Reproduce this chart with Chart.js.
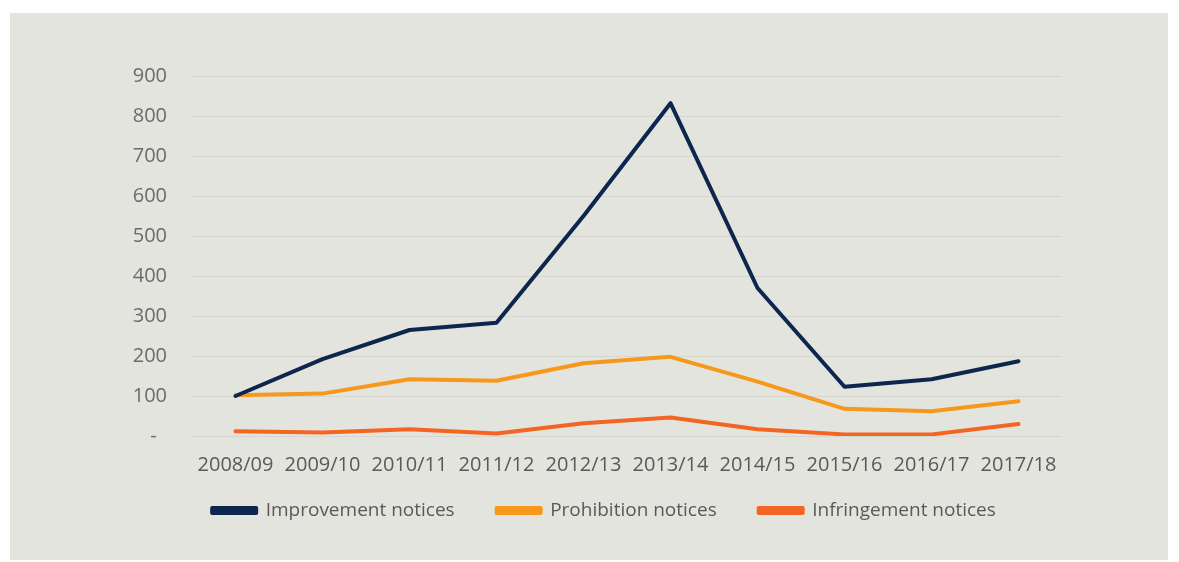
<!DOCTYPE html>
<html>
<head>
<meta charset="utf-8">
<script src="https://cdn.jsdelivr.net/npm/chart.js@4.4.1/dist/chart.umd.min.js"></script>
<style>
  html, body { margin: 0; padding: 0; background: #ffffff; }
  #panel { position: absolute; left: 10px; top: 13px; width: 1158px; height: 547px; background: #e4e4df; }
  #panel canvas { display: block; }
</style>
</head>
<body>
<div id="panel"><canvas id="c" width="1158" height="547"></canvas></div>
<script>
const categories = ['2008/09','2009/10','2010/11','2011/12','2012/13','2013/14','2014/15','2015/16','2016/17','2017/18'];
const improvementNotices = [100, 192, 265, 283, 550, 832, 370, 123, 142, 187];
const prohibitionNotices = [102, 106, 142, 138, 182, 198, 136, 68, 62, 87];
const infringementNotices = [12, 9, 17, 6, 32, 46, 17, 4, 4, 30];
const yTicks = [0, 100, 200, 300, 400, 500, 600, 700, 800, 900];

const FONT = "'Open Sans', 'Noto Sans', sans-serif";

const legendPlacePlugin = {
  id: 'legendPlace',
  beforeInit(chart) {
    const lg = chart.legend;
    if (!lg) return;
    const orig = lg.fit.bind(lg);
    lg.fit = function () { orig(); this.height = 83; };
  },
  afterLayout(chart) {
    const lg = chart.legend;
    if (!lg) return;
    lg.left += 136;
    lg.width -= 136;
    lg.top -= 18;
    lg.bottom -= 18;
  }
};

new Chart(document.getElementById('c'), {
  type: 'line',
  data: {
    labels: categories,
    datasets: [
      { label: 'Improvement notices', data: improvementNotices, borderColor: '#0c264d', backgroundColor: '#0c264d' },
      { label: 'Prohibition notices', data: prohibitionNotices, borderColor: '#f7981d', backgroundColor: '#f7981d' },
      { label: 'Infringement notices', data: infringementNotices, borderColor: '#f26522', backgroundColor: '#f26522' }
    ]
  },
  plugins: [legendPlacePlugin],
  options: {
    responsive: false,
    animation: false,
    devicePixelRatio: 1,
    elements: {
      line: { borderWidth: 4, tension: 0, borderCapStyle: 'round', borderJoinStyle: 'round' },
      point: { radius: 0, hoverRadius: 0 }
    },
    layout: { padding: { left: 0, right: 106, top: 63, bottom: 0 } },
    plugins: {
      tooltip: { enabled: false },
      legend: {
        position: 'bottom',
        labels: {
          boxWidth: 44,
          boxHeight: 5,
          padding: 42,
          color: '#595959',
          font: { family: FONT, size: 19 }
        }
      }
    },
    scales: {
      x: {
        offset: true,
        afterFit: (scale) => { scale.height = 41; },
        grid: { display: false, drawTicks: false },
        border: { display: false },
        ticks: { color: '#595959', padding: 17, maxRotation: 0, autoSkip: false, font: { family: FONT, size: 20 } }
      },
      y: {
        min: 0,
        max: 900,
        afterBuildTicks: (scale) => { scale.ticks = yTicks.map(v => ({ value: v })); },
        afterFit: (scale) => { scale.width = 182; },
        grid: { color: '#d6d6d1', lineWidth: 1, drawTicks: false },
        border: { display: false },
        ticks: {
          color: '#6b6b6b',
          padding: 25,
          font: { family: FONT, size: 20 },
          callback: (v) => v === 0 ? '-  ' : String(v)
        }
      }
    }
  }
});
</script>
</body>
</html>
